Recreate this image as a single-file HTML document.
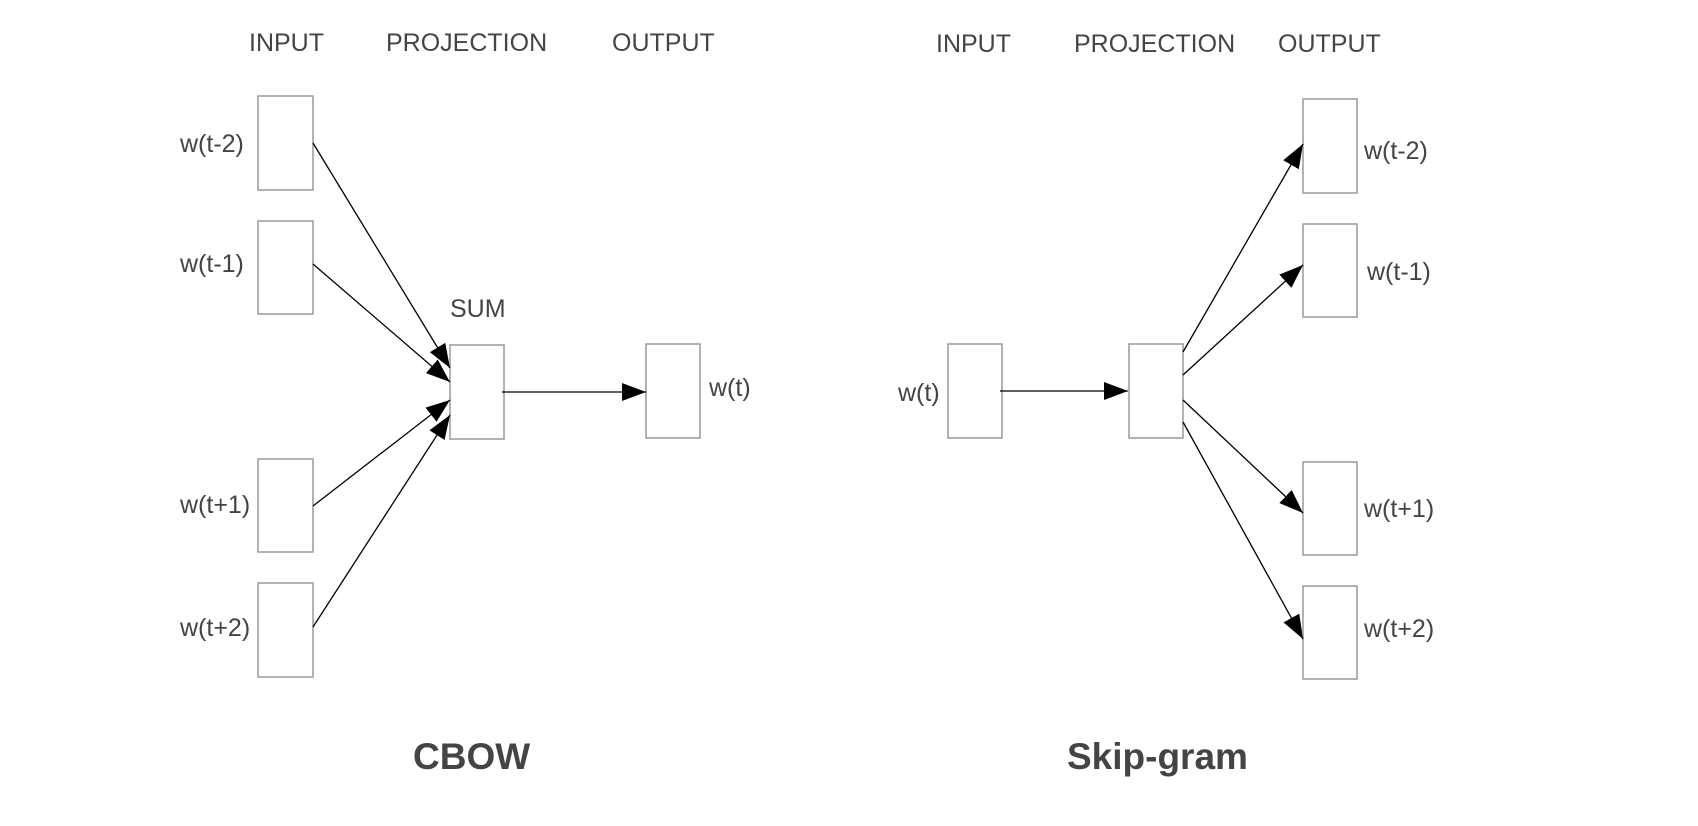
<!DOCTYPE html>
<html><head><meta charset="utf-8"><style>
html,body{margin:0;padding:0;background:#fff;}
svg{display:block;}
text{font-family:"Liberation Sans",Arial,sans-serif;fill:#444;}
</style></head><body>
<svg width="1698" height="826" viewBox="0 0 1698 826" xmlns="http://www.w3.org/2000/svg">
<defs>
<marker id="a" markerUnits="userSpaceOnUse" markerWidth="26" markerHeight="20" refX="24" refY="9" orient="auto">
<path d="M0,0 L24,9 L0,18 Z" fill="#000"/>
</marker>
</defs>
<g fill="#fff" stroke="#999" stroke-width="1.5">
<rect x="258" y="96" width="55" height="94"/>
<rect x="258" y="221" width="55" height="93"/>
<rect x="258" y="459" width="55" height="93"/>
<rect x="258" y="583" width="55" height="94"/>
<rect x="450" y="345" width="54" height="94"/>
<rect x="646" y="344" width="54" height="94"/>
<rect x="948" y="344" width="54" height="94"/>
<rect x="1129" y="344" width="54" height="94"/>
<rect x="1303" y="99" width="54" height="94"/>
<rect x="1303" y="224" width="54" height="93"/>
<rect x="1303" y="462" width="54" height="93"/>
<rect x="1303" y="586" width="54" height="93"/>
</g>
<g stroke="#000" stroke-width="1.3" marker-end="url(#a)">
<line x1="313" y1="143" x2="450" y2="368"/>
<line x1="313" y1="264" x2="450" y2="382"/>
<line x1="313" y1="506" x2="450" y2="400"/>
<line x1="313" y1="627" x2="450" y2="415"/>
<line x1="502" y1="392" x2="646" y2="392"/>
<line x1="1000" y1="391" x2="1128" y2="391"/>
<line x1="1183" y1="352" x2="1303" y2="144"/>
<line x1="1183" y1="375" x2="1303" y2="265"/>
<line x1="1183" y1="400" x2="1303" y2="513"/>
<line x1="1183" y1="422" x2="1303" y2="639"/>
</g>
<g font-size="25">
<text x="249" y="51">INPUT</text>
<text x="386" y="51">PROJECTION</text>
<text x="612" y="51">OUTPUT</text>
<text x="180" y="152">w(t-2)</text>
<text x="180" y="272">w(t-1)</text>
<text x="180" y="513">w(t+1)</text>
<text x="180" y="636">w(t+2)</text>
<text x="450" y="317">SUM</text>
<text x="709" y="396">w(t)</text>
<text x="936" y="52">INPUT</text>
<text x="1074" y="52">PROJECTION</text>
<text x="1278" y="52">OUTPUT</text>
<text x="898" y="401">w(t)</text>
<text x="1364" y="159">w(t-2)</text>
<text x="1367" y="280">w(t-1)</text>
<text x="1364" y="517">w(t+1)</text>
<text x="1364" y="637">w(t+2)</text>
</g>
<g font-size="37" font-weight="bold">
<text x="413" y="769">CBOW</text>
<text x="1067" y="769">Skip-gram</text>
</g>
</svg>
</body></html>
